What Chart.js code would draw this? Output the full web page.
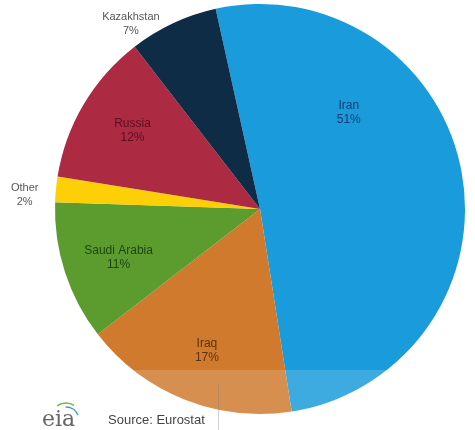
<!DOCTYPE html>
<html>
<head>
<meta charset="utf-8">
<script src="https://cdn.jsdelivr.net/npm/chart.js@4/dist/chart.umd.min.js"></script>
<style>
  html, body { margin: 0; padding: 0; background: #fff; }
  #wrap { width: 475px; height: 430px; }
</style>
</head>
<body>
<div id="wrap"><canvas id="pie" width="475" height="430"></canvas></div>
<script>
// ----- Data -----
const countries = ["Iran", "Iraq", "Saudi Arabia", "Other", "Russia", "Kazakhstan"];
const shares = [51, 17, 11, 2, 12, 7];
const sliceColors = ["#1a9bdb", "#cf7a2d", "#5c9c2e", "#fccf06", "#ad2a43", "#0e2c46"];
const textColors = ["#1b3a78", "#5e3210", "#1d4612", "#555555", "#5a1020", "#555555"];

// where each label sits: fraction along the slice's sweep, fraction of the radius
const labelSweep = [0.30, 0.48, 0.47, 0.22, 0.52, 0.11];
const labelRadius = [0.64, 0.74, 0.73, 1.15, 0.73, 1.10];
const labelSize = [12, 12, 12, 11, 12, 11];

// ----- Plugins -----

// draws the two-line slice labels (name + percent)
const sliceLabels = {
  id: "sliceLabels",
  afterDatasetsDraw(chart) {
    const ctx = chart.ctx;
    const meta = chart.getDatasetMeta(0);

    // faint white wash across the bottom of the picture
    ctx.save();
    ctx.fillStyle = "rgba(255,255,255,0.16)";
    ctx.fillRect(0, 370, 475, 60);
    ctx.strokeStyle = "rgba(120,120,120,0.35)";
    ctx.lineWidth = 1;
    ctx.beginPath();
    ctx.moveTo(218.5, 385);
    ctx.lineTo(218.5, 430);
    ctx.stroke();
    ctx.restore();

    ctx.save();
    ctx.textAlign = "center";
    ctx.textBaseline = "middle";
    meta.data.forEach((arc, i) => {
      const a = arc.startAngle + labelSweep[i] * (arc.endAngle - arc.startAngle);
      const r = arc.outerRadius * labelRadius[i];
      const x = arc.x + Math.cos(a) * r;
      const y = arc.y + Math.sin(a) * r;
      ctx.fillStyle = textColors[i];
      ctx.font = `${labelSize[i]}px "Liberation Sans", Arial, sans-serif`;
      ctx.fillText(countries[i], x, y - 7);
      ctx.fillText(`${shares[i]}%`, x, y + 7);
    });
    ctx.restore();
  }
};

// eia logo and source note
const footer = {
  id: "footer",
  afterDraw(chart) {
    const ctx = chart.ctx;
    ctx.save();

    // logo swooshes
    ctx.lineWidth = 1.6;
    ctx.strokeStyle = "#7ab648";
    ctx.beginPath();
    ctx.arc(66, 418, 15, -2.2, -1.0);
    ctx.stroke();
    ctx.strokeStyle = "#3a9bd5";
    ctx.beginPath();
    ctx.arc(66, 420, 13, -1.6, -0.4);
    ctx.stroke();

    ctx.fillStyle = "#666";
    ctx.font = '22px "DejaVu Serif", "Liberation Serif", serif';
    ctx.textBaseline = "alphabetic";
    ctx.textAlign = "left";
    ctx.fillText("eia", 42, 426);

    ctx.fillStyle = "#444";
    ctx.font = '13px "Liberation Sans", Arial, sans-serif';
    ctx.fillText("Source: Eurostat", 108, 424);
    ctx.restore();
  }
};

// ----- Chart -----
document.addEventListener("DOMContentLoaded", () => {
  const ctx = document.getElementById("pie").getContext("2d");
  new Chart(ctx, {
    type: "pie",
    data: {
      labels: countries,
      datasets: [{
        data: shares,
        backgroundColor: sliceColors,
        borderWidth: 0
      }]
    },
    options: {
      responsive: false,
      animation: false,
      rotation: -12.5,
      layout: { padding: { left: 55, right: 10, top: 4, bottom: 16 } },
      plugins: {
        legend: { display: false },
        tooltip: { enabled: false }
      }
    },
    plugins: [sliceLabels, footer]
  });
});
</script>
</body>
</html>
